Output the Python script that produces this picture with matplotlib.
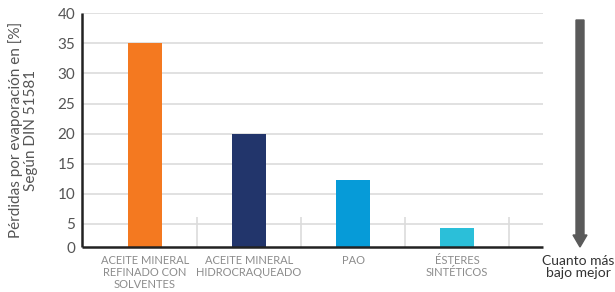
import numpy as np
import matplotlib.pyplot as plt
from matplotlib.patches import FancyArrow

plt.rcParams['font.family'] = ['Lato', 'DejaVu Sans']

# Datos
categorias = ["ACEITE MINERAL\nREFINADO CON\nSOLVENTES",
              "ACEITE MINERAL\nHIDROCRAQUEADO",
              "PAO",
              "ÉSTERES\nSINTÉTICOS"]
perdidas = [35, 20, 12.2, 4.2]
colores = ['#F47920', '#22356B', '#069BD8', '#2BBFD9']
y_ticks = [5, 10, 15, 20, 25, 30, 35, 40]
y_base = 1.1  # el eje del original arranca un poco por encima de 0

x_min, x_fin = -0.606, 3.827   # zona con cuadricula
x_max = 4.182                  # el eje llega hasta la flecha

fig = plt.figure(figsize=(6.15, 2.92), dpi=100)
ax = fig.add_axes([0.1333, 0.154, 0.8098, 0.800])
ax.set_frame_on(False)

x = np.arange(len(categorias))
ax.bar(x, perdidas, width=0.327, color=colores, zorder=3)

ax.set_xlim(x_min, x_max)
ax.set_ylim(y_base, 40)
ax.set_yticks([y_base] + y_ticks)
ax.set_yticklabels(['0'] + [str(t) for t in y_ticks])

# lineas de cuadricula horizontales
ax.hlines(y_ticks, x_min, x_fin, colors='#dcdcdc', linewidth=1.2, zorder=0)

# separadores cortos entre categorias
ax.vlines(x + 0.5, y_base, 6.1, colors='#dcdcdc', linewidth=1.2, zorder=1)

# ejes izquierdo e inferior
ax.vlines([x_min], y_base, 40, colors='#222222', linewidth=1.8, zorder=4, clip_on=False)
ax.hlines([y_base], x_min, x_fin, colors='#222222', linewidth=1.8, zorder=4,
          clip_on=False)

ax.set_xticks(x)
ax.set_xticklabels(categorias, fontsize=8, color='#8c8c8c', linespacing=1.1)
ax.tick_params(axis='x', length=0, pad=6)
ax.tick_params(axis='y', length=0, pad=5, labelsize=11, labelcolor='#555555')

ax.set_ylabel("Pérdidas por evaporación en [%]\nSegún DIN 51581", fontsize=11,
              color='#555555', linespacing=1.05, labelpad=14)

# flecha "cuanto más bajo mejor"
arrow = FancyArrow(5.80, 2.72, 0, -2.27, width=0.08, head_width=0.14, head_length=0.12,
                   length_includes_head=True, color='#5a5a5a',
                   transform=fig.dpi_scale_trans, zorder=5)
fig.add_artist(arrow)
fig.text(578 / 615, 1 - 255 / 292, "Cuanto más\nbajo mejor", ha='center', va='top',
         fontsize=10, color='#333333', linespacing=1.0)

fig.savefig('out.png', dpi=100)
